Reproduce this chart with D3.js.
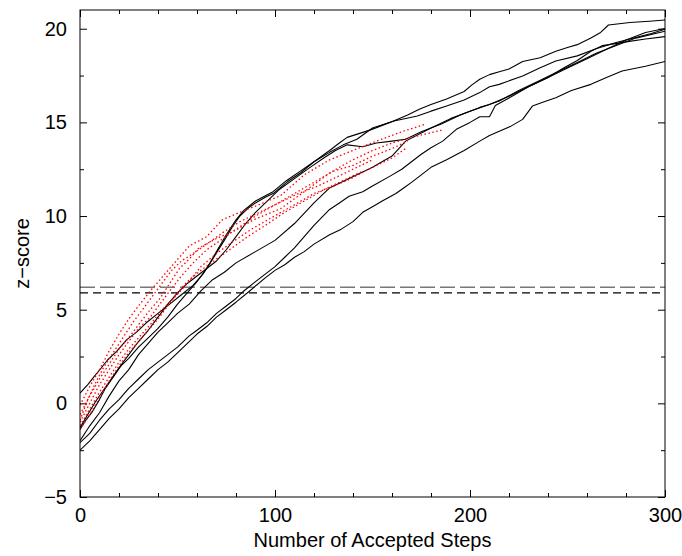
<!DOCTYPE html>
<html><head><meta charset="utf-8">
<script src="https://cdn.jsdelivr.net/npm/d3@7"></script>
<style>body{margin:0;background:#fff}text{font-family:"Liberation Sans",Arial,sans-serif;}</style>
</head><body><svg id="c" width="682" height="556"></svg>
<script>
// ---------- data ----------
const xMajorTicks = [0, 100, 200, 300];
const xMinorTicks = [20, 40, 60, 80, 120, 140, 160, 180, 220, 240, 260, 280];
const yMajorTicks = [-5, 0, 5, 10, 15, 20];
const yMinorTicks = [-2.5, 2.5, 7.5, 12.5, 17.5];
const thresholdGray = 6.2;
const thresholdBlack = 5.9;
const xLabel = "Number of Accepted Steps";
const yLabel = "z\u2212score";

const black1 = [[0,0.55],[4,1.0],[7,1.4],[11,1.9],[14,2.3],[19,2.8],[24,3.4],[29,3.8],[34,4.3],[40,4.8],[46,5.3],[52,5.8],[58,6.3],[63,6.9],[68,7.7],[74,8.7],[78,9.4],[82,10.0],[86,10.4],[90,10.7],[95,11.0],[99,11.2],[106,11.8],[113,12.3],[120,12.9],[128,13.5],[133,13.9],[137,14.2],[143,14.4],[149,14.6],[159,15.0],[168,15.4],[174,15.7],[180,15.95],[188,16.25],[197,16.65],[201,17.0],[205,17.3],[210,17.55],[215,17.7],[220,17.85],[227,18.25],[236,18.45],[244,18.8],[250,19.0],[255,19.15],[262,19.5],[267,19.8],[271,20.2],[282,20.33],[292,20.4],[300,20.47]];
const black2 = [[0,-1.4],[3,-0.9],[6,-0.5],[10,0.2],[13,0.8],[17,1.4],[21,2.0],[25,2.4],[30,3.0],[35,3.5],[40,4.0],[45,4.6],[50,5.3],[55,5.9],[60,6.5],[65,7.2],[70,8.1],[75,9.0],[80,9.8],[84,10.3],[90,10.8],[99,11.3],[106,11.9],[113,12.4],[120,12.9],[128,13.4],[135,13.8],[142,14.1],[150,14.7],[161,15.07],[173,15.34],[180,15.6],[188,15.87],[197,16.2],[205,16.59],[210,16.9],[215,17.03],[227,17.48],[236,17.92],[244,18.28],[255,18.55],[265,18.94],[275,19.26],[285,19.53],[293,19.75],[300,19.97]];
const black3 = [[0,-2.0],[5,-1.2],[10,-0.5],[15,0.4],[20,1.2],[25,1.8],[30,2.6],[35,3.2],[40,3.8],[45,4.3],[50,4.8],[56,5.3],[62,6.0],[68,6.6],[74,7.0],[80,7.5],[90,8.1],[100,8.7],[110,9.6],[120,10.7],[128,11.5],[138,12.0],[150,12.6],[160,13.2],[167,14.0],[180,14.7],[190,15.2],[200,15.6],[215,16.14],[225,16.7],[235,17.2],[245,17.7],[255,18.2],[265,18.7],[275,19.1],[285,19.5],[300,19.87]];
const black4 = [[0,-2.1],[5,-1.6],[10,-0.9],[15,-0.3],[20,0.2],[25,0.8],[30,1.3],[35,1.8],[40,2.2],[45,2.6],[50,3.0],[56,3.6],[60,3.9],[65,4.3],[70,4.8],[75,5.2],[80,5.6],[84,6.0],[90,6.5],[95,6.9],[100,7.3],[105,7.8],[110,8.3],[115,8.9],[120,9.5],[128,10.35],[133,10.7],[138,11.06],[145,11.3],[150,11.6],[159,12.13],[165,12.5],[170,12.9],[175,13.3],[180,13.65],[186,14.0],[193,14.63],[200,15.0],[205,15.3],[210,15.3],[213,15.9],[220,16.3],[230,16.9],[240,17.4],[250,17.9],[260,18.4],[270,18.9],[280,19.4],[290,19.8],[300,20.01]];
const black5 = [[0,-1.3],[4,-0.6],[8,0.1],[12,0.7],[16,1.3],[20,1.9],[25,2.6],[30,3.3],[35,3.9],[40,4.6],[45,5.3],[50,5.9],[55,6.4],[60,6.8],[65,7.2],[70,7.6],[75,8.2],[80,8.9],[85,9.6],[90,10.2],[96,10.8],[102,11.4],[110,12.0],[118,12.6],[125,13.1],[131,13.5],[137,13.8],[145,13.7],[152,13.9],[160,14.0],[167,14.1],[175,14.5],[185,14.9],[195,15.4],[205,15.8],[210,15.96],[220,16.4],[230,16.9],[240,17.4],[248,17.9],[255,18.3],[262,18.8],[268,19.1],[280,19.3],[290,19.45],[300,19.58]];
const black6 = [[0,-2.5],[5,-2.0],[10,-1.4],[15,-0.8],[20,-0.3],[25,0.3],[30,0.8],[35,1.3],[40,1.8],[45,2.2],[50,2.7],[56,3.3],[60,3.7],[65,4.1],[70,4.6],[75,5.0],[80,5.4],[87,6.0],[95,6.7],[100,7.1],[105,7.4],[110,7.8],[115,8.1],[120,8.5],[128,9.0],[134,9.3],[140,9.7],[145,10.2],[150,10.5],[155,10.8],[162,11.2],[166,11.5],[170,11.8],[175,12.2],[180,12.6],[188,13.0],[197,13.5],[205,14.0],[210,14.3],[215,14.53],[221,14.8],[227,15.16],[232,15.87],[238,16.1],[244,16.32],[252,16.7],[262,17.03],[270,17.4],[278,17.74],[290,18.0],[300,18.25]];

const red1 = [[0,-0.1],[5,0.9],[10,1.8],[15,2.8],[20,3.7],[25,4.5],[30,5.2],[36,6.0],[41,6.6],[46,7.2],[51,7.8],[56,8.4],[65,8.9],[73,9.8],[82,10.2],[94,10.7],[103,11.1],[115,12.2],[128,13.0],[140,13.5],[152,14.0],[165,14.5],[177,14.9]];
const red2 = [[0,-0.6],[5,0.4],[10,1.3],[15,2.1],[20,2.9],[25,3.5],[30,4.2],[36,5.0],[41,5.6],[46,6.4],[51,7.2],[56,7.7],[61,8.3],[70,8.8],[79,9.2],[89,9.8],[103,10.4],[115,11.3],[128,12.3],[138,12.9],[150,13.5],[160,13.9],[170,14.2],[186,14.6]];
const red3 = [[0,-1.0],[5,0.0],[10,1.0],[15,1.8],[20,2.6],[25,3.3],[30,4.0],[36,4.6],[41,5.3],[46,6.0],[52,6.8],[58,7.5],[65,8.2],[72,8.7],[80,9.3],[90,10.0],[100,10.6],[110,11.2],[120,11.8],[130,12.4],[140,12.7],[150,13.2],[160,13.6],[168,14.0]];
const red4 = [[0,-1.2],[5,-0.3],[10,0.6],[15,1.4],[20,2.2],[25,2.9],[30,3.5],[36,4.2],[42,5.0],[48,5.6],[55,6.4],[62,7.3],[70,8.0],[78,8.6],[88,9.3],[98,9.9],[110,10.6],[120,11.2],[130,11.6],[138,11.95],[150,12.6],[160,13.1],[167,13.6]];
const red5 = [[0,-0.9],[4,0.2],[8,1.1],[12,1.9],[17,2.7],[22,3.5],[27,4.3],[32,5.0],[37,5.7],[42,6.4],[47,7.1],[52,7.6],[58,8.0],[65,8.5],[73,9.1],[82,9.7],[92,10.2],[102,10.7],[112,11.2],[122,11.6],[132,12.1],[142,12.6],[150,13.0]];
const red6 = [[0,-1.4],[5,-0.6],[10,0.3],[15,1.2],[20,2.0],[25,2.7],[30,3.3],[35,3.9],[40,4.5],[45,5.2],[50,5.9],[55,6.5],[62,7.1],[70,7.7],[78,8.3],[86,8.9],[95,9.5],[105,10.2],[115,10.8],[125,11.4],[135,11.9],[145,12.4]];

const blackSeries = [black1, black2, black3, black4, black5, black6];
const redSeries = [red1, red2, red3, red4, red5, red6];

// ---------- drawing ----------
const L = 80, R = 665, T = 10, B = 497;
const svg = d3.select("#c");
const x = d3.scaleLinear().domain([0, 300]).range([L, R]);
const y = d3.scaleLinear().domain([-5, 21]).range([B, T]);

const fs = 20;
function styleAxis(g){ g.select(".domain").remove(); g.selectAll("line").attr("stroke","#000").attr("stroke-width",1); g.selectAll("text").attr("font-size",fs).attr("fill","#000").attr("font-family","Liberation Sans, Arial, sans-serif"); }

svg.append("g").attr("transform",`translate(0,${B})`)
  .call(d3.axisBottom(x).tickValues(xMajorTicks).tickSize(-7).tickPadding(11).tickFormat(d3.format("d"))).call(styleAxis);
svg.append("g").attr("transform",`translate(0,${B})`)
  .call(d3.axisBottom(x).tickValues(xMinorTicks).tickSize(-4).tickFormat("")).call(styleAxis);
svg.append("g").attr("transform",`translate(0,${T})`)
  .call(d3.axisTop(x).tickValues(xMajorTicks).tickSize(-7).tickFormat("")).call(styleAxis);
svg.append("g").attr("transform",`translate(0,${T})`)
  .call(d3.axisTop(x).tickValues(xMinorTicks).tickSize(-4).tickFormat("")).call(styleAxis);
svg.append("g").attr("transform",`translate(${L},0)`)
  .call(d3.axisLeft(y).tickValues(yMajorTicks).tickSize(-7).tickPadding(13)).call(styleAxis);
svg.append("g").attr("transform",`translate(${L},0)`)
  .call(d3.axisLeft(y).tickValues(yMinorTicks).tickSize(-4).tickFormat("")).call(styleAxis);
svg.append("g").attr("transform",`translate(${R},0)`)
  .call(d3.axisRight(y).tickValues(yMajorTicks).tickSize(-7).tickFormat("")).call(styleAxis);
svg.append("g").attr("transform",`translate(${R},0)`)
  .call(d3.axisRight(y).tickValues(yMinorTicks).tickSize(-4).tickFormat("")).call(styleAxis);

svg.append("clipPath").attr("id","clip").append("rect")
  .attr("x",L).attr("y",T).attr("width",R-L).attr("height",B-T);
const plot = svg.append("g").attr("clip-path","url(#clip)");

const line = d3.line().x(d => x(d[0])).y(d => y(d[1]));

plot.append("line").attr("x1",x(0)).attr("x2",x(300)).attr("y1",y(thresholdGray)).attr("y2",y(thresholdGray))
  .attr("stroke","#777").attr("stroke-width",1.6).attr("stroke-dasharray","15,5");
plot.append("line").attr("x1",x(0)).attr("x2",x(300)).attr("y1",y(thresholdBlack)).attr("y2",y(thresholdBlack))
  .attr("stroke","#000").attr("stroke-width",1.2).attr("stroke-dasharray","8,5");

plot.selectAll("path.blk").data(blackSeries).join("path").attr("class","blk")
  .attr("d", line).attr("fill","none").attr("stroke","#000").attr("stroke-width",1.1).attr("stroke-linejoin","round");
plot.selectAll("path.red").data(redSeries).join("path").attr("class","red")
  .attr("d", line).attr("fill","none").attr("stroke","#ff0000").attr("stroke-width",1.3).attr("stroke-dasharray","1.5,2.5");

svg.append("rect").attr("x",L).attr("y",T).attr("width",R-L).attr("height",B-T)
  .attr("fill","none").attr("stroke","#000").attr("stroke-width",1);

svg.append("text").attr("x",(L+R)/2).attr("y",547).attr("text-anchor","middle")
  .attr("font-size",fs).attr("fill","#000").text(xLabel);
svg.append("text").attr("transform",`translate(29,${(T+B)/2}) rotate(-90)`).attr("text-anchor","middle")
  .attr("font-size",fs).attr("fill","#000").text(yLabel);
</script></body></html>
